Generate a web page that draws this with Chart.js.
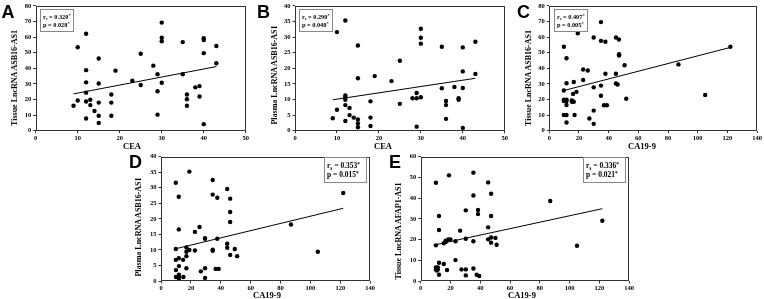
<!DOCTYPE html>
<html>
<head>
<meta charset="utf-8">
<script src="https://cdn.jsdelivr.net/npm/chart.js@4.4.0/dist/chart.umd.min.js"></script>
<style>
  body { margin: 0; background: #fff; width: 764px; height: 299px; overflow: hidden; position: relative; }
  .panel { position: absolute; }
  .letter { position: absolute; font-family: "Liberation Sans", Arial, sans-serif; font-weight: bold; font-size: 18px; line-height: 18px; color: #000; }
  .ytitle, .xtitle { position: absolute; font-family: "Liberation Serif", "Times New Roman", serif; font-weight: bold; color: #000; white-space: nowrap; line-height: 1; }
  .ytitle { font-size: 8px; transform: translate(-50%, -50%) rotate(-90deg); }
  .xtitle { font-size: 8.5px; transform: translate(-50%, -50%); }
</style>
</head>
<body>

<div class="panel" style="left:0px;top:0px"><canvas id="cA" width="250" height="150"></canvas></div>
<div class="panel" style="left:259px;top:0px"><canvas id="cB" width="250" height="150"></canvas></div>
<div class="panel" style="left:513px;top:0px"><canvas id="cC" width="250" height="150"></canvas></div>
<div class="panel" style="left:125px;top:150px"><canvas id="cD" width="251" height="149"></canvas></div>
<div class="panel" style="left:385px;top:150px"><canvas id="cE" width="250" height="149"></canvas></div>

<div class="letter" style="left:1.5px;top:3px">A</div>
<div class="letter" style="left:257px;top:3px">B</div>
<div class="letter" style="left:517px;top:3px">C</div>
<div class="letter" style="left:129px;top:153px">D</div>
<div class="letter" style="left:389px;top:153px">E</div>

<div class="ytitle" style="left:15px;top:78px">Tissue LncRNA ASB16-AS1</div>
<div class="ytitle" style="left:275px;top:75px">Plasma LncRNA ASB16-AS1</div>
<div class="ytitle" style="left:529px;top:78px">Tissue LncRNA ASB16-AS1</div>
<div class="ytitle" style="left:139px;top:227px">Plasma LncRNA ASB16-AS1</div>
<div class="ytitle" style="left:399px;top:231px">Tissue LncRNA AFAP1-AS1</div>

<div class="xtitle" style="left:132px;top:145.5px">CEA</div>
<div class="xtitle" style="left:383px;top:145.5px">CEA</div>
<div class="xtitle" style="left:642px;top:145.5px">CA19-9</div>
<div class="xtitle" style="left:267px;top:295px">CA19-9</div>
<div class="xtitle" style="left:522px;top:295px">CA19-9</div>

<script>
// A: CEA vs tissue ASB16-AS1
const ceaA = [9,10,10,12,12,12,12,12,12,13,13,14,15,15,15,15,15,18,18,18,19,23,25,25,28,29,29,29,30,30,30,30,35,35,36,36,36,38,39,39,40,40,40,40,43,43];
const tissueA = [16,53.5,19.4,62.1,38.8,31,24.4,18.7,7.8,19.8,16.4,12.6,46.3,30.3,18,9.6,5,23.2,18,9.6,38.5,32,49.3,29.3,41.7,36.2,25.3,10.3,69.3,59.6,57.3,30.7,56.8,36.2,23.2,20.2,16,27.8,28.6,21.9,59.3,58.1,49.7,4.2,54.3,43.2];

// B: CEA vs plasma ASB16-AS1
const ceaB = [9,10,10,12,12,12,12,12,12,13,13,14,15,15,15,15,15,18,18,18,19,23,25,25,28,29,29,29,30,30,30,30,35,35,36,36,36,38,39,39,40,40,40,40,43,43];
const plasmaB = [4,31.6,6.7,35.3,11.3,10.7,9.9,8.2,3.1,7.3,5,4.2,27.3,16.8,3.6,2.3,1.1,9.4,4.2,1.5,17.5,15.9,22.4,8.6,10.4,12.1,10.4,1.3,32.7,29.8,27.9,10.7,26.9,13.6,9.5,8.2,3.8,14,10.4,9.9,26.7,19,13.7,0.9,28.5,18.2];

// C: CA19-9 vs tissue ASB16-AS1
const ca199C = [9.8,9.8,9.8,9.8,9.8,11.6,11.6,11.6,11.6,11.6,11.6,11.6,15.2,15.2,16,16.5,16.5,17,18.3,19.2,22.8,22.8,25.9,27,29.9,29.9,29.9,29.9,34.8,34.8,34.8,34.8,36.8,37.8,37.8,38.8,44.9,44.9,44.9,46,46.9,47,47,50.7,51.8,87,105,122];
const tissueC = [53.8,25.8,19.9,19,10.1,46.4,30.4,19.9,19,16.5,10.1,5.3,19.4,18.6,23.6,31.2,18.6,10.1,24.9,62.5,39.2,32.5,38.6,7.8,59.7,27.8,12.9,4.4,69.6,57.6,28.9,22.4,16.3,57,36.5,16.3,59.7,36.5,30.3,29.6,58.5,49,48.2,42,20.5,42.5,22.9,53.8];

// D: CA19-9 vs plasma ASB16-AS1
const ca199D = [9.9,9.9,9.9,10,10,11.9,11.9,11.9,12,12,12,12,14.8,15,17,17,17,17,19,19,22.7,22.7,25.8,26.7,29.5,29.5,29.5,29.5,34.6,34.6,34.6,34.6,37.7,37.7,36.6,38.6,44.3,44.3,44.3,46.3,46.3,46.3,46.3,49.4,51,87,105,122];
const plasmaD = [31.6,10.3,6.8,3.5,1.3,27.1,16.6,7.3,4.8,2,0.75,1.3,6.8,1.3,10.8,9.4,8,4.1,10,35.2,15.8,9.8,17.4,3.1,13.8,13.6,4.1,1,32.5,27.8,10.1,9.7,26.8,13.6,3.9,3.9,29.6,12,10.7,26.5,22.2,19,8.4,10.3,8,18.2,9.4,28.3];

// E: CA19-9 vs tissue AFAP1-AS1
const ca199E = [10.2,10.2,12.3,12.3,10.2,10.2,11.5,11.5,10.8,10.8,12.3,12.3,15.5,15.5,16.8,16.8,17.7,18.5,20,19,23.4,23.4,26.5,27.4,30.3,30.3,30.3,30.3,35.4,35.4,35.4,35.4,37.6,39.3,38.5,38.5,45.3,45.3,45.3,47.3,47.3,47.3,47.3,50.2,51,87,105,122];
const afapE = [47.4,17.2,31.4,24.6,6.6,5.6,6.6,5.6,6.1,5.1,8.8,3,18.2,8.2,19.5,18.8,5.3,20,20,51,10.1,19.2,24.3,5.6,20.4,34.1,5.6,2.7,52.3,41.3,19.2,6,3,2.4,34.3,32.3,47.6,25.9,20.1,42.1,31.4,21,18.5,20.8,17.5,38.6,17,29.1];

// fitted lines (end points)
const fitXA = [9, 43],  fitYA = [23.6, 41.1];
const fitXB = [9, 43],  fitYB = [9.9, 16.8];
const fitXC = [10, 122], fitYC = [25.8, 53.4];
const fitXD = [10, 122], fitYD = [10.4, 23.4];
const fitXE = [10, 122], fitYE = [17.5, 34.9];

// tick values
const ticksCEA = [0, 10, 20, 30, 40, 50];
const ticksCA = [0, 20, 40, 60, 80, 100, 120, 140];
const ticksTissue = [0, 10, 20, 30, 40, 50, 60, 70, 80];
const ticksPlasma = [0, 5, 10, 15, 20, 25, 30, 35, 40];
const ticksAfap = [0, 10, 20, 30, 40, 50, 60];

// spearman stats
const rsVals = ['0.320', '0.290', '0.407', '0.353', '0.336'];
const pVals = ['0.028', '0.048', '0.005', '0.015', '0.021'];

const SERIF = '"Liberation Serif", "Times New Roman", serif';

// frame round the plot + the r/p box
const statBox = {
  id: 'statBox',
  afterDraw(chart, args, o) {
    const ctx = chart.ctx, a = chart.chartArea;
    ctx.save();
    const L = Math.round(a.left), T = Math.round(a.top), R = Math.round(a.right), B = Math.round(a.bottom);
    ctx.strokeStyle = '#333';
    ctx.lineWidth = 1;
    ctx.strokeRect(L + 0.5, T + 0.5, R - L - 1, B - T - 1);

    const x = Math.round(o.side === 'left' ? a.left + o.dx : a.right - o.dx - o.w);
    const y = Math.round(a.top + o.dy);
    ctx.strokeStyle = '#888';
    ctx.strokeRect(x + 0.5, y + 0.5, o.w, o.h);

    ctx.fillStyle = '#000';
    ctx.textBaseline = 'alphabetic';
    const f = o.size, fs = f * 0.7;
    const big = 'bold ' + f + 'px ' + SERIF, small = 'bold ' + fs + 'px ' + SERIF;
    const y1 = y + o.h * 0.44, y2 = y + o.h * 0.8;
    let tx = x + o.pad;
    ctx.font = big; ctx.fillText('r', tx, y1); tx += ctx.measureText('r').width;
    ctx.font = small; ctx.fillText('s', tx, y1 + f * 0.25); tx += ctx.measureText('s').width;
    ctx.font = big; let t = ' = ' + o.r; ctx.fillText(t, tx, y1); tx += ctx.measureText(t).width;
    ctx.font = small; ctx.fillText('*', tx, y1 - f * 0.3);
    tx = x + o.pad;
    ctx.font = big; t = 'p = ' + o.p; ctx.fillText(t, tx, y2); tx += ctx.measureText(t).width;
    ctx.font = small; ctx.fillText('*', tx, y2 - f * 0.3);
    ctx.restore();
  }
};

function makePanel(id, xs, ys, fx, fy, xTicks, yTicks, o) {
  const tickFont = { family: SERIF, size: 6.5, weight: 'bold' };
  new Chart(document.getElementById(id), {
    type: 'scatter',
    data: {
      datasets: [
        { data: xs.map((v, i) => ({ x: v, y: ys[i] })), pointRadius: 2.2, pointBorderWidth: 0, backgroundColor: '#000', borderColor: '#000' },
        { data: fx.map((v, i) => ({ x: v, y: fy[i] })), showLine: true, pointRadius: 0, borderColor: '#000', borderWidth: 1, fill: false }
      ]
    },
    options: {
      responsive: false,
      animation: false,
      events: [],
      layout: { padding: { top: o.padTop, right: o.padRight, left: 0, bottom: 0 } },
      plugins: {
        legend: { display: false },
        tooltip: { enabled: false },
        statBox: o.box
      },
      scales: {
        x: {
          type: 'linear',
          min: xTicks[0], max: xTicks[xTicks.length - 1],
          afterBuildTicks: s => { s.ticks = xTicks.map(v => ({ value: v })); },
          afterFit: s => { s.height = o.xH; },
          ticks: { font: tickFont, color: '#000', padding: 1, autoSkip: false, maxRotation: 0 },
          grid: { drawOnChartArea: false, tickLength: 2.5, color: '#333' },
          border: { display: false }
        },
        y: {
          type: 'linear',
          min: yTicks[0], max: yTicks[yTicks.length - 1],
          afterBuildTicks: s => { s.ticks = yTicks.map(v => ({ value: v })); },
          afterFit: s => { s.width = o.yW; },
          ticks: { font: tickFont, color: '#000', padding: 2, autoSkip: false },
          grid: { drawOnChartArea: false, tickLength: 2.5, color: '#333' },
          border: { display: false }
        }
      }
    },
    plugins: [statBox]
  });
}

const smallBox = (r, p) => ({ side: 'left', dx: 4.3, dy: 3, w: 33, h: 22, size: 6.3, pad: 3, r, p });
const bigBox = (r, p) => ({ side: 'right', dx: 4, dy: 0.5, w: 42, h: 25, size: 7.5, pad: 3, r, p });

makePanel('cA', ceaA, tissueA, fitXA, fitYA, ticksCEA, ticksTissue,
  { yW: 35.7, xH: 19.3, padTop: 4, padRight: 3.3, box: smallBox(rsVals[0], pVals[0]) });
makePanel('cB', ceaB, plasmaB, fitXB, fitYB, ticksCEA, ticksPlasma,
  { yW: 36, xH: 19.3, padTop: 3.3, padRight: 3.7, box: smallBox(rsVals[1], pVals[1]) });
makePanel('cC', ca199C, tissueC, fitXC, fitYC, ticksCA, ticksTissue,
  { yW: 36.3, xH: 19.3, padTop: 4.3, padRight: 4.7, box: smallBox(rsVals[2], pVals[2]) });
makePanel('cD', ca199D, plasmaD, fitXD, fitYD, ticksCA, ticksPlasma,
  { yW: 36, xH: 18, padTop: 6.7, padRight: 3.3, box: bigBox(rsVals[3], pVals[3]) });
makePanel('cE', ca199E, afapE, fitXE, fitYE, ticksCA, ticksAfap,
  { yW: 35.7, xH: 18, padTop: 6.7, padRight: 3.3, box: bigBox(rsVals[4], pVals[4]) });
</script>
</body>
</html>
